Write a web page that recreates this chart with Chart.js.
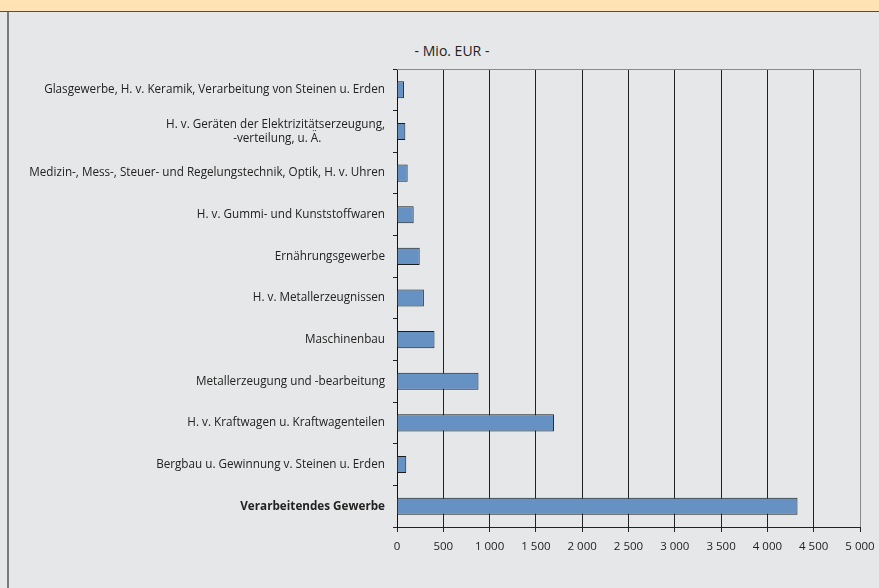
<!DOCTYPE html>
<html>
<head>
<meta charset="utf-8">
<script src="https://cdn.jsdelivr.net/npm/chart.js@4"></script>
<style>
  html, body { margin: 0; padding: 0; }
  body { width: 879px; height: 588px; background: #e6e7e9; position: relative; overflow: hidden; font-family: "Open Sans", sans-serif; }
  #band { position: absolute; left: 0; top: 0; width: 879px; height: 11px; background: #ffe3b5; border-bottom: 1px solid #55504a; }
  #leftline { position: absolute; left: 7px; top: 12px; width: 2px; height: 576px; background: #7a7a7a; }
  #unit { position: absolute; left: 352px; width: 200px; top: 41px; text-align: center; font-size: 14px; color: #222; }
  #wrap { position: absolute; left: 0; top: 0; width: 879px; height: 588px; }
  canvas { display: block; }
</style>
</head>
<body>
<div id="band"></div>
<div id="leftline"></div>
<div id="unit">- Mio. EUR -</div>
<div id="wrap"><canvas id="chart" width="879" height="588"></canvas></div>
<script>
// categories, top to bottom
const categories = [
    'Glasgewerbe, H. v. Keramik, Verarbeitung von Steinen u. Erden',
    ['H. v. Geräten der Elektrizitätserzeugung,', '-verteilung, u. Ä.                     '],
    'Medizin-, Mess-, Steuer- und Regelungstechnik, Optik, H. v. Uhren',
    'H. v. Gummi- und Kunststoffwaren',
    'Ernährungsgewerbe',
    'H. v. Metallerzeugnissen',
    'Maschinenbau',
    'Metallerzeugung und -bearbeitung',
    'H. v. Kraftwagen u. Kraftwagenteilen',
    'Bergbau u. Gewinnung v. Steinen u. Erden',
    'Verarbeitendes Gewerbe'
];

// Mio. EUR
const values = [75, 90, 115, 180, 245, 290, 405, 880, 1695, 100, 4325];

const xMin = 0;
const xMax = 5000;
const xStep = 500;

// light grey frame line along the top of the plot
const topLine = {
    id: 'topLine',
    afterDraw(chart) {
        const a = chart.chartArea;
        const ctx = chart.ctx;
        ctx.save();
        ctx.strokeStyle = '#8a8a8a';
        ctx.lineWidth = 1;
        ctx.beginPath();
        ctx.moveTo(a.left, a.top + 0.5);
        ctx.lineTo(a.right, a.top + 0.5);
        ctx.stroke();
        ctx.restore();
    }
};

const ctx = document.getElementById('chart').getContext('2d');
new Chart(ctx, {
    type: 'bar',
    data: {
        labels: categories,
        datasets: [{
            data: values,
            backgroundColor: '#6591c3',
            borderColor: '#1c1c1c',
            borderWidth: 1,
            barPercentage: 0.41,
            categoryPercentage: 1
        }]
    },
    options: {
        indexAxis: 'y',
        responsive: false,
        animation: false,
        devicePixelRatio: 1,
        layout: { padding: { top: 69, right: 19, left: 0, bottom: 0 } },
        plugins: { legend: { display: false }, tooltip: { enabled: false } },
        scales: {
            x: {
                min: xMin,
                max: xMax,
                ticks: {
                    stepSize: xStep,
                    padding: 8,
                    color: '#222',
                    font: { family: 'Open Sans', size: 11.5 },
                    maxRotation: 0,
                    callback: v => String(v).replace(/\B(?=(\d{3})+(?!\d))/g, ' ')
                },
                grid: {
                    color: c => (c.index === 10 ? '#8a8a8a' : '#222'),
                    tickColor: '#222',
                    tickLength: 5
                },
                border: { color: '#222' },
                afterFit: s => { s.height = 61; s.paddingLeft = 0; s.paddingRight = 0; }
            },
            y: {
                ticks: {
                    padding: 8,
                    color: '#222',
                    font: c => ({ family: 'Open Sans', size: 11.7, weight: c.index === 10 ? 'bold' : 'normal' })
                },
                grid: {
                    drawOnChartArea: false,
                    color: '#222',
                    tickLength: 4
                },
                border: { color: '#111' },
                afterFit: s => { s.width = 397; s.paddingTop = 0; s.paddingBottom = 0; }
            }
        }
    },
    plugins: [topLine]
});
</script>
</body>
</html>
